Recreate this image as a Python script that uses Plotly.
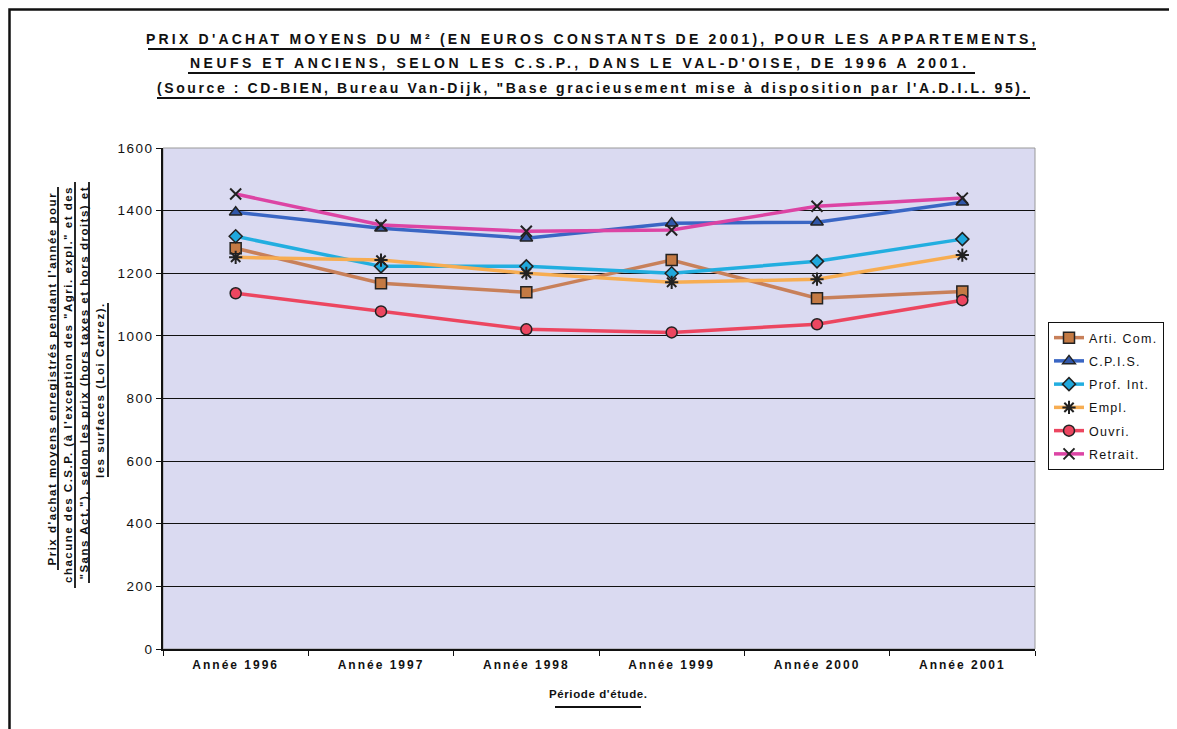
import plotly.graph_objects as go

categories = ["Année 1996", "Année 1997", "Année 1998", "Année 1999", "Année 2000", "Année 2001"]
arti_com = [1280, 1168, 1139, 1242, 1120, 1142]
cpis = [1395, 1344, 1312, 1360, 1363, 1427]
prof_int = [1318, 1222, 1222, 1200, 1238, 1309]
empl = [1251, 1242, 1200, 1171, 1181, 1258]
ouvri = [1136, 1078, 1021, 1011, 1037, 1114]
retrait = [1453, 1354, 1334, 1338, 1414, 1440]
series_names = ["Arti. Com.", "C.P.I.S.", "Prof. Int.", "Empl.", "Ouvri.", "Retrait."]
y_ticks = [0, 200, 400, 600, 800, 1000, 1200, 1400, 1600]

OFF = 8  # page body margin
W, H = 1177, 729
L, R, T, B = 163, 1035, 148, 649  # plot area in screen pixels


def px(x):
    return (x - L) / (R - L)


def py(y):
    return (B - y) / (B - T)


def sp(txt, ls, bold=True):
    inner = "<b>" + txt + "</b>" if bold else txt
    return '<span style="letter-spacing:%spx">%s</span>' % (ls, inner)


styles = [
    dict(line=dict(color="#c8805a", width=3.5), marker=dict(symbol="square", size=11, color="#c47a44", line=dict(color="#222", width=1.5))),
    dict(line=dict(color="#3a66c4", width=3.5), marker=dict(symbol="triangle-up", size=11, color="#3157a8", line=dict(color="#222", width=1.5))),
    dict(line=dict(color="#22aee0", width=3.5), marker=dict(symbol="diamond", size=10, color="#20a8dc", line=dict(color="#222", width=1.5))),
    dict(line=dict(color="#f7ad52", width=3.5), marker=dict(symbol="asterisk-open", size=11, color="#222", line=dict(color="#222", width=2))),
    dict(line=dict(color="#ec4660", width=3.5), marker=dict(symbol="circle", size=11, color="#ec4660", line=dict(color="#222", width=1.5))),
    dict(line=dict(color="#dc44a4", width=3.5), marker=dict(symbol="x-thin-open", size=11, color="#222", line=dict(color="#222", width=2))),
]
data = [arti_com, cpis, prof_int, empl, ouvri, retrait]

fig = go.Figure()
for i, (name, vals, st) in enumerate(zip(series_names, data, styles)):
    fig.add_trace(go.Scatter(x=categories, y=vals, name=sp(name, 1.3, bold=False), mode="lines+markers",
                             legendgroup=str(i), **st))

FONT = "Liberation Sans"
shapes = []
annotations = []

# outer frame (left & top visible)
shapes.append(dict(type="rect", xref="paper", yref="paper", x0=px(9.5), x1=px(1230), y0=py(9.5), y1=py(760),
                   line=dict(color="#111", width=2.5), layer="below"))
# plot area light border
shapes.append(dict(type="rect", xref="paper", yref="paper", x0=0, x1=1, y0=0, y1=1,
                   line=dict(color="#999", width=1), layer="below"))

# titles
titles = [
    ("PRIX D'ACHAT MOYENS DU M² (EN EUROS CONSTANTS DE 2001), POUR LES APPARTEMENTS,", 592, 39, 148, 1036, 49, 3.2),
    ("NEUFS ET ANCIENS, SELON LES C.S.P., DANS LE VAL-D'OISE, DE 1996 A 2001.", 580, 63, 188, 975, 73, 3.5),
    ("(Source : CD-BIEN, Bureau Van-Dijk, \"Base gracieusement mise à disposition par l'A.D.I.L. 95).", 593, 88, 157, 1030, 98, 2.6),
]
for txt, cx, cy, x0, x1, uy, ls in titles:
    annotations.append(dict(text=sp(txt, ls), xref="paper", yref="paper", x=px(cx), y=py(cy),
                            showarrow=False, xanchor="center", yanchor="middle",
                            font=dict(family=FONT, size=14, color="#111")))
    shapes.append(dict(type="line", xref="paper", yref="paper", x0=px(x0), x1=px(x1), y0=py(uy), y1=py(uy),
                       line=dict(color="#111", width=2)))

# y-axis title (rotated, 4 lines)
ylines = [
    ("Prix d'achat moyens enregistrés pendant l'année pour", 51, 58, 187, 570),
    ("chacune des C.S.P. (à l'exception des \"Agri. expl.\" et des", 68, 75, 182, 588),
    ("\"Sans Act.\"), selon les prix (hors taxes et hors droits) et", 83, 89, 182, 583),
    ("les surfaces (Loi Carrez).", 100, 108, 303, 477),
]
for txt, cx, ux, y0, y1 in ylines:
    annotations.append(dict(text=sp(txt, 1.5), xref="paper", yref="paper", x=px(cx), y=py((y0 + y1) / 2),
                            showarrow=False, textangle=-90, xanchor="center", yanchor="middle",
                            font=dict(family=FONT, size=11.5, color="#111")))
    shapes.append(dict(type="line", xref="paper", yref="paper", x0=px(ux), x1=px(ux), y0=py(y0), y1=py(y1),
                       line=dict(color="#111", width=1.8)))

# x-axis title
annotations.append(dict(text=sp("Période d'étude.", 0.6), xref="paper", yref="paper", x=px(598), y=py(694),
                        showarrow=False, xanchor="center", yanchor="middle",
                        font=dict(family=FONT, size=11.5, color="#111")))
shapes.append(dict(type="line", xref="paper", yref="paper", x0=px(555), x1=px(641), y0=py(707), y1=py(707),
                   line=dict(color="#111", width=2)))

fig.update_layout(
    width=W, height=H,
    margin=dict(l=L - OFF, r=W - (R - OFF), t=T - OFF, b=H - (B - OFF), pad=0),
    paper_bgcolor="white",
    plot_bgcolor="#dadaf1",
    font=dict(family=FONT, color="#111"),
    showlegend=True,
    legend=dict(x=px(1048), y=py(322), xanchor="left", yanchor="top",
                bgcolor="white", bordercolor="#111", borderwidth=1,
                font=dict(family=FONT, size=12.5, color="#111"),
                traceorder="grouped", tracegroupgap=4, itemwidth=30),
    shapes=shapes,
    annotations=annotations,
    xaxis=dict(type="category", range=[-0.5, 5.5], showline=True, linecolor="#111", linewidth=1.5,
               ticks="outside", tickson="boundaries", ticklen=5, tickcolor="#111",
               showgrid=False, tickfont=dict(family=FONT, size=12, color="#111"),
               tickvals=categories, ticktext=[sp(c, 2) for c in categories],
               ticklabelstandoff=4),
    yaxis=dict(range=[0, 1600], tickvals=y_ticks, ticktext=[sp(str(v), 1.5, bold=False) for v in y_ticks],
               showline=True, linecolor="#111", linewidth=1.5,
               ticks="outside", ticklen=5, tickcolor="#111",
               showgrid=True, gridcolor="#111", gridwidth=1, zeroline=False,
               tickfont=dict(family=FONT, size=13.5, color="#111")),
)
fig.write_html("out.html")
